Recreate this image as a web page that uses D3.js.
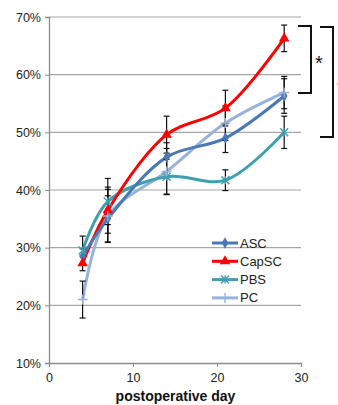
<!DOCTYPE html>
<meta charset="utf-8">
<style>
body { margin: 0; background: #fff; }
text { font-family: "Liberation Sans", Arial, sans-serif; }
</style>
<svg width="338" height="405"></svg>
<script src="https://cdn.jsdelivr.net/npm/d3@7"></script>
<script>

var days = [4, 7, 14, 21, 28];
var seriesNames = ["ASC", "CapSC", "PBS", "PC"];
var ascValues = [28.5, 35, 45.7, 49, 56.3];
var capscValues = [27.3, 36.5, 49.6, 54.2, 66.3];
var pbsValues = [29.5, 38, 42.3, 41.7, 50];
var pcValues = [21, 35.5, 43.2, 51.6, 56.9];
var ascErr = [1.3, 4, 2.5, 2.5, 3];
var capscErr = [1.3, 4, 3.2, 3.1, 2.3];
var pbsErr = [2.5, 4, 3, 1.8, 2.8];
var pcErr = [3.2, 4.6, 4, 3, 2.8];
var yTicks = [10, 20, 30, 40, 50, 60, 70];
var xTicks = [0, 10, 20, 30];

var colors = ["#4a78b4", "#ff0000", "#3f9fae", "#97b2dc"];
var symbols = ["diamond", "triangle", "x", "plus"];

var series = seriesNames.map(function(n, i) {
  var v = [ascValues, capscValues, pbsValues, pcValues][i];
  var e = [ascErr, capscErr, pbsErr, pcErr][i];
  return { name: n, color: colors[i], symbol: symbols[i],
    points: days.map(function(d, j) { return { day: d, value: v[j], err: e[j] }; }) };
});

var svg = d3.select("svg");
var x = d3.scaleLinear().domain([0, 30]).range([49, 301]);
var y = d3.scaleLinear().domain([10, 70]).range([363, 17]);

// gridlines
svg.append("g").selectAll("line").data(yTicks.slice(1)).enter().append("line")
  .attr("x1", x(0)).attr("x2", x(30))
  .attr("y1", function(d) { return y(d); }).attr("y2", function(d) { return y(d); })
  .attr("stroke", "#a6a6a6").attr("stroke-width", 1.2);

var yAxis = svg.append("g").attr("transform", "translate(" + x(0) + ",0)")
  .call(d3.axisLeft(y).tickValues(yTicks).tickSize(4).tickPadding(4).tickFormat(function(d) { return d + "%"; }));
var xAxis = svg.append("g").attr("transform", "translate(0," + y(10) + ")")
  .call(d3.axisBottom(x).tickValues(xTicks).tickSize(4).tickPadding(6));
[yAxis, xAxis].forEach(function(a) {
  a.select(".domain").attr("stroke", "#8c8c8c").attr("stroke-width", 1.3);
  a.selectAll(".tick line").attr("stroke", "#8c8c8c");
  a.selectAll("text").attr("font-size", 12.5).attr("fill", "#222")
    .style("font-family", "Liberation Sans, Arial, sans-serif");
});

svg.append("text").attr("x", 175.5).attr("y", 401).attr("text-anchor", "middle")
  .attr("font-size", 14).attr("font-weight", "bold").attr("fill", "#111").text("postoperative day");

var line = d3.line().x(function(d) { return x(d.day); }).y(function(d) { return y(d.value); })
  .curve(d3.curveCatmullRom.alpha(0.5));

// lines
series.slice().reverse().forEach(function(s) {
  svg.append("path").datum(s.points).attr("d", line)
    .attr("fill", "none").attr("stroke", s.color).attr("stroke-width", 3);
});

// error bars
series.forEach(function(s) {
  var g = svg.append("g").attr("stroke", "#111").attr("stroke-width", 1.2);
  s.points.forEach(function(p) {
    var cx = x(p.day), y0 = y(p.value - p.err), y1 = y(p.value + p.err);
    g.append("line").attr("x1", cx).attr("x2", cx).attr("y1", y0).attr("y2", y1);
    g.append("line").attr("x1", cx - 3).attr("x2", cx + 3).attr("y1", y0).attr("y2", y0);
    g.append("line").attr("x1", cx - 3).attr("x2", cx + 3).attr("y1", y1).attr("y2", y1);
  });
});

// markers
function drawMarker(g, s, cx, cy) {
  var m = g.append("g").attr("transform", "translate(" + cx + "," + cy + ")");
  if (s.symbol === "diamond") {
    m.append("path").attr("d", d3.symbol().type(d3.symbolDiamond).size(38)()).attr("fill", s.color);
  } else if (s.symbol === "triangle") {
    m.append("path").attr("d", d3.symbol().type(d3.symbolTriangle).size(48)()).attr("fill", s.color);
  } else if (s.symbol === "x") {
    m.append("path").attr("d", "M-4,-4L4,4M-4,4L4,-4M0,-4V4").attr("stroke", s.color)
      .attr("stroke-width", 1.4).attr("fill", "none");
  } else {
    m.append("path").attr("d", "M-5,0H5M0,-5V5").attr("stroke", s.color)
      .attr("stroke-width", 1.4).attr("fill", "none");
  }
}
series.forEach(function(s) {
  var g = svg.append("g");
  s.points.forEach(function(p) { drawMarker(g, s, x(p.day), y(p.value)); });
});

// legend
var legend = svg.append("g");
series.forEach(function(s, i) {
  var ly = 243 + i * 18.3;
  legend.append("line").attr("x1", 212).attr("x2", 238).attr("y1", ly).attr("y2", ly)
    .attr("stroke", s.color).attr("stroke-width", 3);
  drawMarker(legend, s, 225, ly);
  legend.append("text").attr("x", 240).attr("y", ly + 4.5).attr("font-size", 13)
    .attr("fill", "#222").text(s.name);
});

// significance brackets
var br = svg.append("g").attr("fill", "none").attr("stroke", "#111").attr("stroke-width", 2);
br.append("path").attr("d", "M298,26H311V93H298");
br.append("path").attr("d", "M320,27H333V137H320");
svg.append("text").attr("x", 319).attr("y", 70).attr("text-anchor", "middle")
  .attr("font-size", 20).attr("fill", "#111").text("*");
svg.append("text").attr("x", 341).attr("y", 95).attr("text-anchor", "middle")
  .attr("font-size", 20).attr("fill", "#111").text("*");

</script>
